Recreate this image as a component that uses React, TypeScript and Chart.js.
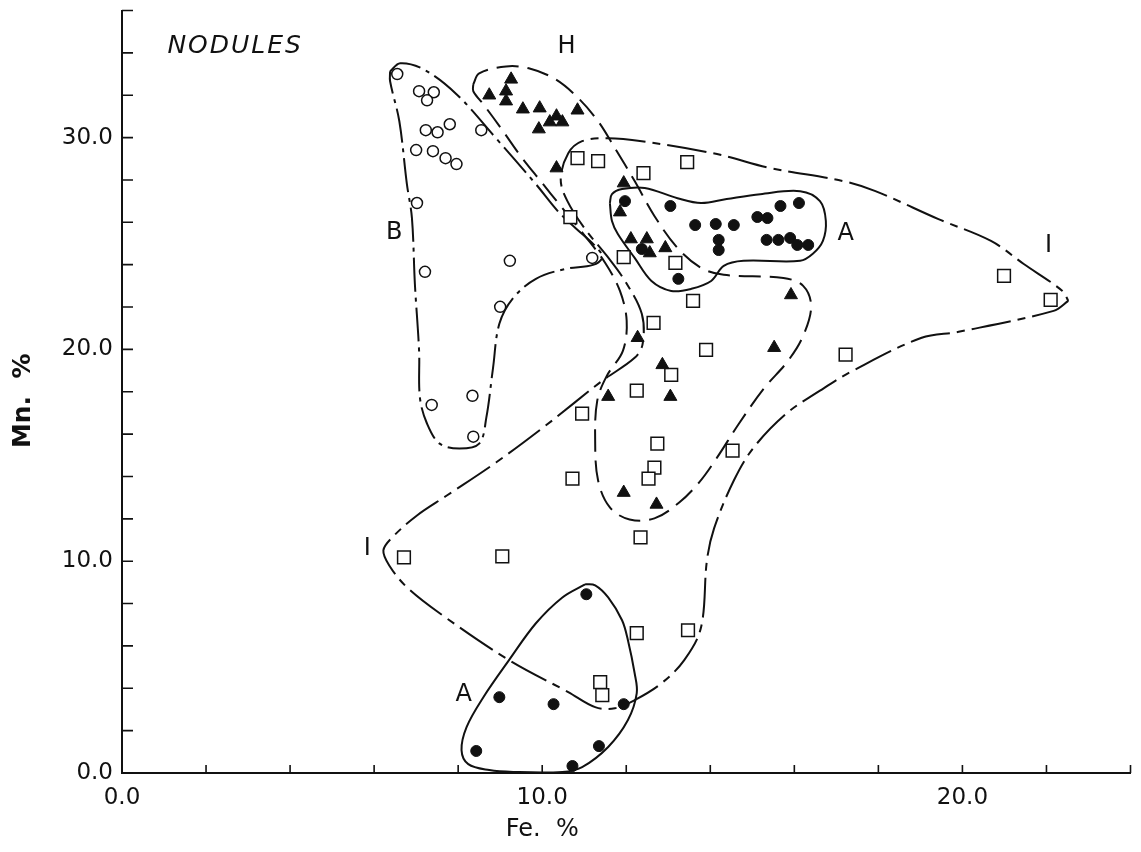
import { useEffect, useRef } from "react";
import { Chart, registerables } from "chart.js";

Chart.register(...registerables);

const FONT = '"DejaVu Sans", sans-serif';
const INK = "#111111";

// Group B nodules (open circles): Fe % and Mn %
const bFe = [6.55, 7.07, 7.42, 7.26, 7.23, 7.51, 7.8, 7.0, 7.4, 7.7, 7.96, 8.55, 7.02, 7.21, 9.23, 9.0, 8.34, 7.37, 8.36, 11.19];
const bMn = [33.0, 32.19, 32.14, 31.76, 30.35, 30.25, 30.63, 29.41, 29.36, 29.03, 28.75, 30.35, 26.91, 23.66, 24.18, 22.01, 17.81, 17.38, 15.88, 24.32];

// Group H nodules (filled triangles)
const hFe = [9.26, 8.74, 9.14, 9.14, 9.54, 9.94, 10.84, 10.34, 10.18, 10.48, 9.92, 10.34, 11.94, 11.85, 12.11, 12.49, 12.56, 12.93, 15.92, 12.27, 12.86, 11.57, 13.05, 15.52, 11.94, 12.72];
const hMn = [32.75, 32.0, 32.19, 31.72, 31.34, 31.39, 31.29, 31.01, 30.73, 30.73, 30.4, 28.56, 27.85, 26.48, 25.21, 25.21, 24.55, 24.79, 22.57, 20.55, 19.27, 17.77, 17.77, 20.08, 13.24, 12.68];

// Group I nodules (open squares)
const iFe = [10.84, 11.33, 12.41, 13.45, 10.67, 11.94, 13.17, 13.59, 12.65, 13.9, 13.07, 12.25, 10.95, 12.74, 12.67, 12.53, 10.72, 14.53, 17.22, 20.99, 22.1, 6.71, 9.05, 12.34, 12.25, 13.47, 11.38, 11.43];
const iMn = [29.03, 28.89, 28.32, 28.84, 26.24, 24.36, 24.08, 22.29, 21.25, 19.98, 18.8, 18.05, 16.97, 15.55, 14.42, 13.9, 13.9, 15.22, 19.75, 23.47, 22.34, 10.18, 10.23, 11.12, 6.6, 6.74, 4.29, 3.68];

// Group A nodules (filled circles)
const aFe = [11.97, 13.05, 13.64, 14.13, 14.56, 14.2, 14.2, 15.12, 15.36, 15.67, 16.11, 15.34, 15.62, 15.9, 16.07, 16.33, 13.24, 12.37, 11.05, 8.98, 10.27, 11.94, 8.43, 11.35, 10.72];
const aMn = [27.0, 26.77, 25.87, 25.92, 25.87, 25.17, 24.69, 26.25, 26.2, 26.77, 26.91, 25.17, 25.17, 25.26, 24.93, 24.93, 23.33, 24.74, 8.44, 3.58, 3.25, 3.25, 1.04, 1.27, 0.33];

// Hand-drawn envelopes around each group
const bEdgeFe = [6.38, 6.62, 7.18, 7.96, 8.9, 9.85, 10.37, 10.79, 11.26, 11.43, 11.21, 10.55, 9.85, 9.31, 8.98, 8.83, 8.67, 8.5, 8.03, 7.56, 7.26, 7.09, 7.07, 6.97, 6.9, 6.78, 6.6, 6.38];
const bEdgeMn = [33.13, 33.51, 33.22, 32.05, 29.97, 27.8, 26.53, 25.73, 24.88, 24.36, 23.99, 23.8, 23.33, 22.43, 21.21, 19.13, 16.78, 15.55, 15.32, 15.55, 16.49, 17.72, 19.93, 23.09, 26.2, 27.8, 30.77, 32.66];

const hEdgeFe = [8.36, 8.5, 9.14, 9.68, 10.32, 10.86, 11.33, 11.73, 12.2, 12.67, 13.22, 13.78, 14.32, 15.74, 16.21, 16.4, 16.21, 15.85, 15.27, 14.68, 14.16, 13.73, 13.26, 12.67, 12.08, 11.61, 11.33, 11.26, 11.31, 11.54, 11.92, 12.01, 11.85, 11.5, 11.02, 10.44, 9.96, 9.49, 9.02, 8.6, 8.36];
const hEdgeMn = [32.52, 33.03, 33.36, 33.27, 32.75, 31.86, 30.77, 29.5, 27.95, 26.3, 24.79, 23.85, 23.52, 23.37, 23.0, 22.05, 20.64, 19.46, 18.14, 16.49, 14.89, 13.71, 12.77, 12.02, 11.97, 12.54, 13.81, 15.69, 17.58, 18.76, 19.93, 21.35, 22.76, 24.08, 25.35, 26.77, 27.95, 29.12, 30.44, 31.57, 32.19];

const iEdgeFe = [22.52, 22.17, 19.91, 19.03, 17.39, 16.61, 15.81, 15.03, 14.56, 14.09, 13.92, 13.78, 13.38, 12.84, 12.2, 11.73, 11.26, 10.62, 9.21, 7.56, 6.78, 6.36, 6.22, 6.43, 7.02, 7.73, 8.9, 10.08, 11.43, 12.2, 12.39, 12.37, 11.97, 11.54, 11.02, 10.6, 10.44, 10.62, 10.95, 11.57, 12.37, 14.16, 15.43, 17.15, 17.93, 19.43, 20.68, 21.46, 22.38];
const iEdgeMn = [22.29, 21.82, 20.83, 20.55, 18.99, 18.05, 16.97, 15.36, 13.81, 11.55, 10.04, 6.88, 5.33, 4.24, 3.44, 3.06, 3.11, 3.82, 5.33, 7.54, 8.77, 9.8, 10.51, 11.12, 12.16, 13.1, 14.66, 16.4, 18.52, 19.6, 20.26, 21.68, 23.23, 24.41, 25.68, 27.0, 28.04, 29.26, 29.83, 29.97, 29.83, 29.22, 28.56, 27.95, 27.47, 26.15, 25.12, 24.03, 22.76];

const aUpperEdgeFe = [11.61, 11.66, 11.9, 12.44, 13.22, 13.78, 14.39, 15.19, 16.14, 16.61, 16.75, 16.68, 16.44, 16.14, 14.79, 14.32, 14.02, 13.55, 13.07, 12.6, 12.2, 11.8, 11.66];
const aUpperEdgeMn = [26.91, 27.33, 27.57, 27.62, 27.14, 26.91, 27.1, 27.33, 27.47, 27.0, 26.06, 25.12, 24.51, 24.18, 24.18, 23.94, 23.23, 22.86, 22.76, 23.23, 24.32, 25.45, 26.06];

const aLowerEdgeFe = [11.02, 10.48, 9.85, 9.21, 8.6, 8.2, 8.08, 8.24, 8.74, 9.31, 10.48, 10.95, 11.57, 12.04, 12.25, 12.2, 12.04, 11.9, 11.57, 11.26];
const aLowerEdgeMn = [8.91, 8.29, 7.07, 5.33, 3.58, 2.17, 1.08, 0.42, 0.14, 0.05, 0.05, 0.28, 1.23, 2.5, 3.77, 4.71, 6.27, 7.21, 8.29, 8.86];

// Letters naming the groups, in Fe / Mn units
const groupLetters = ["B", "H", "A", "I", "I", "A"];
const groupLetterFe = [6.48, 10.58, 17.22, 22.05, 5.84, 8.13];
const groupLetterMn = [25.5, 34.3, 25.45, 24.9, 10.6, 3.68];

const panelTitle = "NODULES";
const panelTitleFe = 1.08;
const panelTitleMn = 34.3;

const feAxisTitle = "Fe.  %";
const mnAxisTitle = "Mn.  %";
const feRange = [0, 24];
const mnRange = [0, 36];
const tickStep = 2;
const labelEvery = 10;

const toPoints = (xs: number[], ys: number[]) => xs.map((x, i) => ({ x, y: ys[i] }));
const closedLoop = (xs: number[], ys: number[]) => {
  const pts = toPoints(xs, ys);
  return [...pts, pts[0]];
};

const outline = (xs: number[], ys: number[], dash: number[]) => ({
  data: closedLoop(xs, ys),
  showLine: true,
  pointRadius: 0,
  borderColor: INK,
  borderWidth: 2,
  borderDash: dash,
  tension: 0.35,
  fill: false,
  clip: false as const,
  order: 2,
});

const annotatePlugin = {
  id: "annotate",
  afterDraw(chart: any) {
    const { ctx } = chart;
    const x = chart.scales.x;
    const y = chart.scales.y;
    ctx.save();

    // inward tick marks
    ctx.strokeStyle = INK;
    ctx.lineWidth = 1.6;
    ctx.beginPath();
    x.ticks.forEach((t: any) => {
      const px = x.getPixelForValue(t.value);
      ctx.moveTo(px, y.bottom);
      ctx.lineTo(px, y.bottom - 8);
    });
    y.ticks.forEach((t: any) => {
      const py = y.getPixelForValue(t.value);
      ctx.moveTo(x.left, py);
      ctx.lineTo(x.left + 11, py);
    });
    ctx.stroke();

    ctx.fillStyle = INK;
    ctx.textAlign = "center";
    ctx.textBaseline = "middle";

    // group letters
    ctx.font = `24px ${FONT}`;
    groupLetters.forEach((s, i) => {
      ctx.fillText(s, x.getPixelForValue(groupLetterFe[i]), y.getPixelForValue(groupLetterMn[i]));
    });

    // panel title
    ctx.font = `italic 25px ${FONT}`;
    ctx.textAlign = "left";
    (ctx as any).letterSpacing = "2px";
    ctx.fillText(panelTitle, x.getPixelForValue(panelTitleFe), y.getPixelForValue(panelTitleMn));
    (ctx as any).letterSpacing = "0px";

    // axis titles
    ctx.textAlign = "center";
    ctx.font = `24px ${FONT}`;
    ctx.fillText(feAxisTitle, x.getPixelForValue(10), y.bottom + 57);

    ctx.save();
    ctx.translate(23, (y.top + y.bottom) / 2 + 9);
    ctx.rotate(-Math.PI / 2);
    ctx.font = `bold 25px ${FONT}`;
    ctx.fillText(mnAxisTitle, 0, 0);
    ctx.restore();

    ctx.restore();
  },
};

const tickLabel = (v: number | string) => {
  const n = Number(v);
  return n % labelEvery === 0 ? n.toFixed(1) : "";
};

export default function App() {
  const ref = useRef<HTMLCanvasElement>(null);

  useEffect(() => {
    const canvas = ref.current;
    if (!canvas) return;
    const chart = new Chart(canvas, {
      type: "scatter",
      data: {
        datasets: [
          {
            data: toPoints(bFe, bMn),
            pointStyle: "circle",
            pointRadius: 5.5,
            pointBackgroundColor: "#ffffff",
            pointBorderColor: INK,
            pointBorderWidth: 1.5,
            clip: false,
            order: 0,
          },
          {
            data: toPoints(hFe, hMn),
            pointStyle: "triangle",
            pointRadius: 7.5,
            pointBackgroundColor: INK,
            pointBorderColor: INK,
            pointBorderWidth: 1,
            clip: false,
            order: 0,
          },
          {
            data: toPoints(iFe, iMn),
            pointStyle: "rect",
            pointRadius: 9,
            pointBackgroundColor: "#ffffff",
            pointBorderColor: INK,
            pointBorderWidth: 1.5,
            clip: false,
            order: 0,
          },
          {
            data: toPoints(aFe, aMn),
            pointStyle: "circle",
            pointRadius: 5.5,
            pointBackgroundColor: INK,
            pointBorderColor: INK,
            pointBorderWidth: 1,
            clip: false,
            order: 0,
          },
          outline(bEdgeFe, bEdgeMn, [34, 6, 4, 6]),
          outline(hEdgeFe, hEdgeMn, [22, 9]),
          outline(iEdgeFe, iEdgeMn, [40, 7, 8, 7]),
          outline(aUpperEdgeFe, aUpperEdgeMn, []),
          outline(aLowerEdgeFe, aLowerEdgeMn, []),
        ] as any,
      },
      options: {
        animation: false,
        responsive: false,
        devicePixelRatio: 1,
        layout: { padding: { left: 0, top: 9, right: 2, bottom: 0 } },
        plugins: {
          legend: { display: false },
          tooltip: { enabled: false },
        },
        scales: {
          x: {
            type: "linear",
            min: feRange[0],
            max: feRange[1],
            grid: { display: false, drawTicks: false },
            border: { display: true, color: INK, width: 2 },
            ticks: {
              stepSize: tickStep,
              autoSkip: false,
              maxRotation: 0,
              padding: 11,
              color: INK,
              font: { family: FONT, size: 23 },
              callback: tickLabel,
            },
            afterFit: (s: any) => {
              s.height = 79;
              s.paddingLeft = 0;
              s.paddingRight = 0;
            },
          },
          y: {
            type: "linear",
            min: mnRange[0],
            max: mnRange[1],
            grid: { display: false, drawTicks: false },
            border: { display: true, color: INK, width: 2 },
            ticks: {
              stepSize: tickStep,
              autoSkip: false,
              padding: 9,
              color: INK,
              font: { family: FONT, size: 23 },
              callback: tickLabel,
            },
            afterFit: (s: any) => {
              s.width = 122;
              s.paddingTop = 0;
              s.paddingBottom = 0;
            },
          },
        },
      },
      plugins: [annotatePlugin],
    });
    return () => chart.destroy();
  }, []);

  return (
    <div style={{ position: "absolute", left: 0, top: 0, width: 1141, height: 852, background: "#ffffff" }}>
      <canvas ref={ref} width={1141} height={852} style={{ display: "block", width: 1141, height: 852 }} />
    </div>
  );
}
